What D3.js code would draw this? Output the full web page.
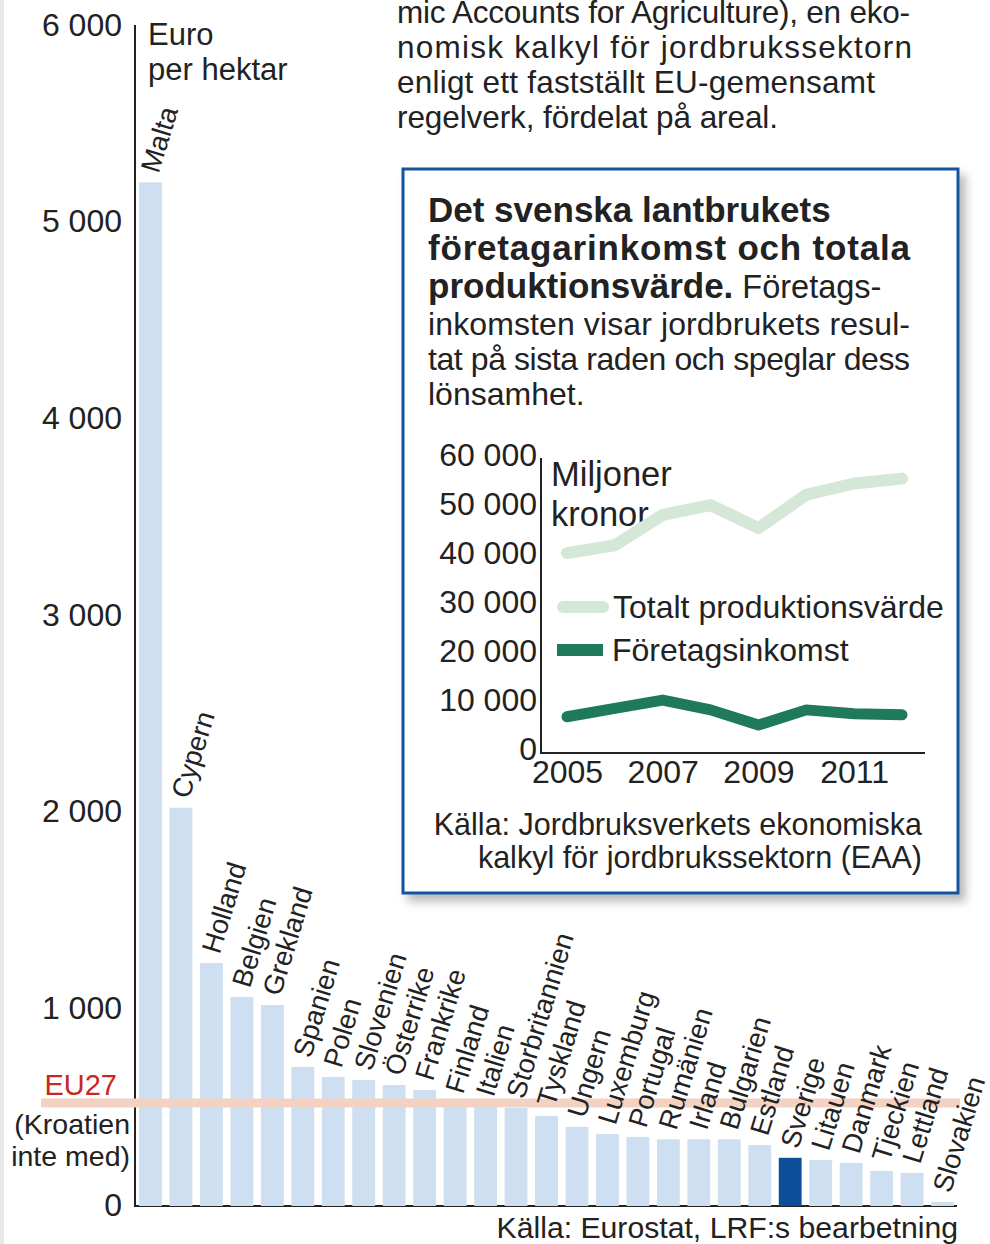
<!DOCTYPE html>
<html>
<head>
<meta charset="utf-8">
<script src="https://cdn.jsdelivr.net/npm/d3@7"></script>
<style>
  body { margin: 0; background: #fff; }
  text { font-family: "Liberation Sans", Arial, sans-serif; fill: #222; }
</style>
</head>
<body>
<script>
var w = 990;
var h = 1244;

// main chart data, euro per hectare
var countries = ["Malta", "Cypern", "Holland", "Belgien", "Grekland", "Spanien", "Polen",
  "Slovenien", "Österrike", "Frankrike", "Finland", "Italien", "Storbritannien", "Tyskland",
  "Ungern", "Luxemburg", "Portugal", "Rumänien", "Irland", "Bulgarien", "Estland", "Sverige",
  "Litauen", "Danmark", "Tjeckien", "Lettland", "Slovakien"];
var values = [5200, 2020, 1230, 1058, 1017, 702, 651, 636, 610, 585, 519, 503, 493, 453,
  397, 361, 346, 334, 334, 334, 305, 240, 229, 214, 173, 163, 15];
var eu27 = 519;
var yTicks = [0, 1000, 2000, 3000, 4000, 5000, 6000];

// inset data, miljoner kronor
var years = [2005, 2006, 2007, 2008, 2009, 2010, 2011, 2012];
var totalValue = [40800, 42400, 48600, 50600, 45900, 52700, 55000, 56000];
var income = [7400, 9100, 10800, 8800, 5700, 8800, 8000, 7800];
var insetYTicks = [0, 10000, 20000, 30000, 40000, 50000, 60000];
var insetXTicks = [2005, 2007, 2009, 2011];

var introLines = ["mic Accounts for Agriculture), en eko-",
  "nomisk kalkyl för jordbrukssektorn",
  "enligt ett fastställt EU-gemensamt",
  "regelverk, fördelat på areal."];

var fmt = d3.formatLocale({decimal: ",", thousands: " ", grouping: [3], currency: ["", ""]}).format(",");

var svg = d3.select("body")
  .append("svg")
  .attr("width", w)
  .attr("height", h);

// shadow for the inset box
var defs = svg.append("defs");
var f = defs.append("filter").attr("id", "shadow")
  .attr("x", "-5%").attr("y", "-5%").attr("width", "115%").attr("height", "115%");
f.append("feDropShadow").attr("dx", 6).attr("dy", 7).attr("stdDeviation", 5)
  .attr("flood-color", "#000").attr("flood-opacity", 0.28);

// light strip on the left edge
svg.append("rect").attr("x", 0).attr("y", 0).attr("width", 4).attr("height", h).attr("fill", "#e8e8e8");

// ---------- main bar chart ----------
var x = d3.scaleBand()
  .domain(countries)
  .range([136, 957])
  .paddingInner(0.25)
  .paddingOuter(0.1);

var y = d3.scaleLinear()
  .domain([0, 6000])
  .range([1205, 25]);

var yAxis = svg.append("g")
  .attr("transform", "translate(135,0)")
  .call(d3.axisLeft(y).tickValues(yTicks).tickSize(0).tickPadding(13).tickFormat(fmt));
yAxis.select(".domain").remove();
yAxis.selectAll("text")
  .attr("font-size", 32)
  .style("font-family", "Liberation Sans, Arial, sans-serif")
  .attr("fill", "#222");

// baseline (shows only between bars)
svg.append("line")
  .attr("x1", 135).attr("x2", 957)
  .attr("y1", y(0) + 1).attr("y2", y(0) + 1)
  .attr("stroke", "#222").attr("stroke-width", 2);

svg.selectAll("rect.bar")
  .data(values)
  .enter()
  .append("rect")
  .attr("class", "bar")
  .attr("x", function(d, i) { return x(countries[i]); })
  .attr("y", function(d) { return y(d); })
  .attr("width", x.bandwidth())
  .attr("height", function(d) { return y(0) - y(d) + 1; })
  .attr("fill", function(d, i) { return countries[i] == "Sverige" ? "#0b4f9b" : "#cddff0"; });

svg.append("line")
  .attr("x1", 135).attr("x2", 135)
  .attr("y1", y(6000)).attr("y2", y(0) + 2)
  .attr("stroke", "#222").attr("stroke-width", 2);

// EU27 average band
svg.append("line")
  .attr("x1", 41).attr("x2", 960)
  .attr("y1", y(eu27)).attr("y2", y(eu27))
  .attr("stroke", "#f4d2c3").attr("stroke-width", 9);

svg.selectAll("text.country")
  .data(countries)
  .enter()
  .append("text")
  .attr("class", "country")
  .attr("transform", function(d, i) {
    var cx = x(d) + x.bandwidth() / 2 + 8;
    var cy = y(values[i]) - 8;
    return "translate(" + cx + "," + cy + ") rotate(-73)";
  })
  .attr("font-size", 27.5)
  .text(function(d) { return d; });

svg.append("text").attr("x", 148).attr("y", 45).attr("font-size", 31).text("Euro");
svg.append("text").attr("x", 148).attr("y", 80).attr("font-size", 31).text("per hektar");

svg.append("text").attr("x", 117).attr("y", 1095).attr("font-size", 29)
  .attr("text-anchor", "end").style("fill", "#c8281e").text("EU27");
svg.append("text").attr("x", 130).attr("y", 1134).attr("font-size", 28.5)
  .attr("text-anchor", "end").text("(Kroatien");
svg.append("text").attr("x", 130).attr("y", 1166).attr("font-size", 28.5)
  .attr("text-anchor", "end").text("inte med)");

svg.append("text").attr("x", 958).attr("y", 1238).attr("font-size", 30.2)
  .attr("text-anchor", "end").text("Källa: Eurostat, LRF:s bearbetning");

// intro text at the top
var introWidths = [513, 515, 478, 381];
introLines.forEach(function(t, i) {
  svg.append("text")
    .attr("x", 397).attr("y", 23 + i * 35)
    .attr("font-size", 31.5)
    .attr("textLength", introWidths[i]).attr("lengthAdjust", "spacing")
    .text(t);
});

// ---------- inset box ----------
svg.append("rect")
  .attr("x", 403).attr("y", 169).attr("width", 555).attr("height", 724)
  .attr("fill", "#fff").attr("stroke", "#15539e").attr("stroke-width", 3)
  .attr("filter", "url(#shadow)");

svg.append("text").attr("x", 428).attr("y", 222).attr("font-size", 35)
  .attr("font-weight", "bold").text("Det svenska lantbrukets");
svg.append("text").attr("x", 428).attr("y", 260).attr("font-size", 35)
  .attr("font-weight", "bold").attr("textLength", 482).attr("lengthAdjust", "spacing")
  .text("företagarinkomst och totala");
var t3 = svg.append("text").attr("x", 428).attr("y", 298).attr("font-size", 35);
t3.append("tspan").attr("font-weight", "bold").text("produktionsvärde.");
t3.append("tspan").attr("font-size", 32.5).text(" Företags-");
svg.append("text").attr("x", 428).attr("y", 335).attr("font-size", 32)
  .attr("textLength", 482).attr("lengthAdjust", "spacing")
  .text("inkomsten visar jordbrukets resul-");
svg.append("text").attr("x", 428).attr("y", 370).attr("font-size", 32)
  .attr("textLength", 482).attr("lengthAdjust", "spacing")
  .text("tat på sista raden och speglar dess");
svg.append("text").attr("x", 428).attr("y", 405).attr("font-size", 32).text("lönsamhet.");

// inset line chart
var ix = d3.scaleLinear().domain([2005, 2012]).range([567, 902]);
var iy = d3.scaleLinear().domain([0, 60000]).range([753, 459]);

var iyAxis = svg.append("g")
  .attr("transform", "translate(541,-4)")
  .call(d3.axisLeft(iy).tickValues(insetYTicks).tickSize(0).tickPadding(4).tickFormat(fmt));
iyAxis.select(".domain").remove();
iyAxis.selectAll("text").attr("font-size", 32)
  .style("font-family", "Liberation Sans, Arial, sans-serif").attr("fill", "#222");

var ixAxis = svg.append("g")
  .attr("transform", "translate(0,753)")
  .call(d3.axisBottom(ix).tickValues(insetXTicks).tickSize(0).tickPadding(7).tickFormat(d3.format("d")));
ixAxis.select(".domain").remove();
ixAxis.selectAll("text").attr("font-size", 32)
  .style("font-family", "Liberation Sans, Arial, sans-serif").attr("fill", "#222");

svg.append("line").attr("x1", 541).attr("x2", 541).attr("y1", 458).attr("y2", 754)
  .attr("stroke", "#222").attr("stroke-width", 2);
svg.append("line").attr("x1", 540).attr("x2", 925).attr("y1", 753).attr("y2", 753)
  .attr("stroke", "#222").attr("stroke-width", 2);

svg.append("text").attr("x", 551).attr("y", 486).attr("font-size", 34.5).text("Miljoner");
svg.append("text").attr("x", 551).attr("y", 526).attr("font-size", 34.5).text("kronor");

var line = d3.line()
  .x(function(d, i) { return ix(years[i]); })
  .y(function(d) { return iy(d); });

svg.append("path")
  .datum(totalValue)
  .attr("d", line)
  .attr("fill", "none").attr("stroke", "#d5e7d6").attr("stroke-width", 12)
  .attr("stroke-linecap", "round").attr("stroke-linejoin", "round");

svg.append("path")
  .datum(income)
  .attr("d", line)
  .attr("fill", "none").attr("stroke", "#1e7a5b").attr("stroke-width", 11)
  .attr("stroke-linecap", "round").attr("stroke-linejoin", "round");

// legend
svg.append("line").attr("x1", 563).attr("x2", 603).attr("y1", 607).attr("y2", 607)
  .attr("stroke", "#d5e7d6").attr("stroke-width", 12).attr("stroke-linecap", "round");
svg.append("text").attr("x", 613).attr("y", 618).attr("font-size", 32).text("Totalt produktionsvärde");
svg.append("line").attr("x1", 557).attr("x2", 603).attr("y1", 650).attr("y2", 650)
  .attr("stroke", "#1e7a5b").attr("stroke-width", 12);
svg.append("text").attr("x", 612).attr("y", 661).attr("font-size", 32).text("Företagsinkomst");

svg.append("text").attr("x", 922).attr("y", 835).attr("font-size", 30.5)
  .attr("text-anchor", "end").text("Källa: Jordbruksverkets ekonomiska");
svg.append("text").attr("x", 922).attr("y", 868).attr("font-size", 30.5)
  .attr("text-anchor", "end").text("kalkyl för jordbrukssektorn (EAA)");
</script>
</body>
</html>
